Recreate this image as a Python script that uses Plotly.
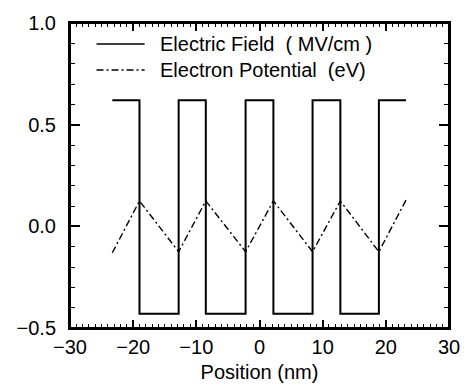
import plotly.graph_objects as go

# Step boundaries (nm) and levels
field_x = [-23.3, -19.0, -12.8, -8.5, -2.2, 2.2, 8.4, 12.8, 18.9, 23.2]
field_y = [0.62, -0.43, 0.62, -0.43, 0.62, -0.43, 0.62, -0.43, 0.62, 0.62]

pot_x = [-23.3, -19.0, -12.8, -8.5, -2.2, 2.2, 8.4, 12.8, 18.9, 23.2]
pot_y = [-0.13, 0.125, -0.125, 0.125, -0.125, 0.125, -0.125, 0.125, -0.125, 0.13]

legend_labels = ["Electric Field\u00a0 ( MV/cm )", "Electron Potential\u00a0 (eV)"]
x_ticks = [-30, -20, -10, 0, 10, 20, 30]
y_ticks = [-0.5, 0.0, 0.5, 1.0]
y_ticklabels = ["\u22120.5", "0.0", "0.5", "1.0"]

FONT = "Liberation Sans, Arial, Helvetica, sans-serif"
DASH = "7px,3px,2px,3px"

fig = go.Figure()
fig.add_trace(go.Scatter(x=field_x, y=field_y, mode="lines", line_shape="hv",
                         line=dict(color="black", width=2), showlegend=False))
fig.add_trace(go.Scatter(x=pot_x, y=pot_y, mode="lines",
                         line=dict(color="black", width=1.4, dash=DASH), showlegend=False))

# Manual legend
rows = [0.931, 0.846]
dashes = ["solid", DASH]
widths = [1.6, 1.4]
for lab, yy, d, w in zip(legend_labels, rows, dashes, widths):
    fig.add_shape(type="line", xref="paper", yref="paper", x0=0.07, x1=0.197, y0=yy, y1=yy,
                  line=dict(color="black", width=w, dash=d))
    fig.add_annotation(xref="paper", yref="paper", x=0.233, y=yy, text=lab, showarrow=False,
                       xanchor="left", yanchor="middle", font=dict(size=20, color="black", family=FONT))

# Frame (guarantees a closed box)
fig.add_shape(type="rect", xref="paper", yref="paper", x0=0, x1=1, y0=0, y1=1,
              line=dict(color="black", width=2), layer="above")

axis_common = dict(showline=True, linecolor="black", linewidth=2, mirror="ticks",
                   ticks="inside", tickcolor="black", tickwidth=1.5, showgrid=False,
                   zeroline=False, tickfont=dict(size=20, color="black", family=FONT))

fig.update_xaxes(range=[-30, 30], tickvals=x_ticks, ticklen=8,
                 minor=dict(ticks="inside", dtick=1, ticklen=4, tickcolor="black", tickwidth=1),
                 title=dict(text="Position (nm)", font=dict(size=20, color="black", family=FONT), standoff=8),
                 **axis_common)
fig.update_yaxes(range=[-0.5, 1.0], tickvals=y_ticks, ticktext=y_ticklabels, ticklen=10,
                 minor=dict(ticks="inside", dtick=0.1, ticklen=5, tickcolor="black", tickwidth=1),
                 ticklabelstandoff=8,
                 **axis_common)

fig.update_layout(width=472, height=392, margin=dict(l=70, r=17, t=13, b=61),
                  plot_bgcolor="white", paper_bgcolor="white",
                  font=dict(family=FONT, size=20, color="black"))

fig.write_html("out.html", config={"displayModeBar": False},
               post_script="document.body.style.margin='0';")
